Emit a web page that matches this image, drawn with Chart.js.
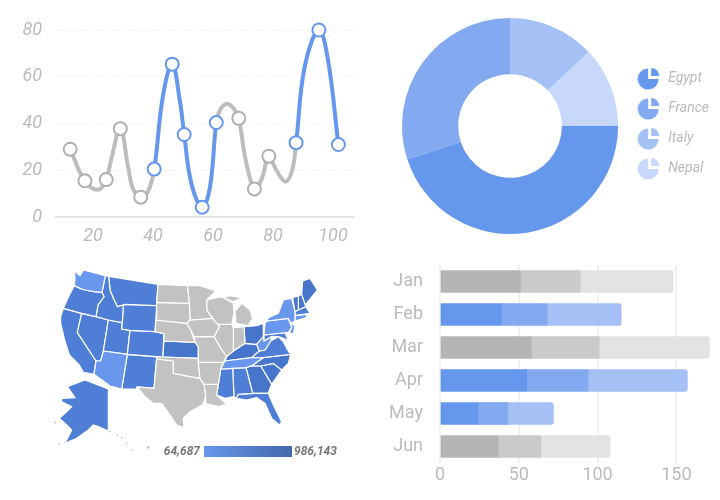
<!DOCTYPE html>
<html>
<head>
<meta charset="utf-8">
<title>Dashboard charts</title>
<script src="https://cdn.jsdelivr.net/npm/chart.js@4"></script>
<style>
  html, body { margin: 0; background: #fff; }
  canvas { position: absolute; }
  #scale { position: absolute; left: 204px; top: 446px; width: 88px; height: 11px;
           background: linear-gradient(to right, #6597ec, #4468ab); }
  .scale-label { position: absolute; top: 444px; font: italic bold 12px Roboto; color: #777; }
</style>
</head>
<body>
<canvas id="lines" width="370" height="250" style="left:0;top:0"></canvas>
<canvas id="donut" width="320" height="252" style="left:399px;top:0"></canvas>
<canvas id="map" width="330" height="215" style="left:30px;top:255px"></canvas>
<canvas id="bars" width="340" height="235" style="left:380px;top:255px"></canvas>
<div id="scale"></div>
<span class="scale-label" style="right:520px">64,687</span>
<span class="scale-label" style="left:294px">986,143</span>

<script>
const gray = '#bdbdbd'
const blue = '#6597ec'
const tickGray = '#bbbbbb'

// line chart: the curve carries more readings than the ringed ones
const lineX = [12.4, 17.3, 21.7, 24.4, 26, 29.1, 31.7, 33.3, 35.9, 38.3, 40.4, 43.3, 46.4, 48.9, 50.4, 52.8, 56.4, 59, 61.1, 62.4, 64.7, 67.2, 68.6, 70.9, 73.8, 76.1, 78.6, 81.1, 84.2, 86.4, 87.7, 90.6, 95.3, 98.3, 101.8]
const lineY = [29, 15.5, 11.7, 16, 24.2, 37.8, 21.5, 12.2, 8.5, 10.8, 20.5, 51.6, 65.4, 50.2, 35.3, 14.3, 4.2, 12.9, 40.4, 45.9, 48.5, 45.9, 42.2, 24.4, 12, 15.8, 26, 20.1, 15.1, 20.1, 31.8, 64.5, 80, 67.4, 31]
const lineMarked = [1, 1, 0, 1, 0, 1, 0, 0, 1, 0, 1, 0, 1, 0, 1, 0, 1, 0, 1, 0, 0, 0, 1, 0, 1, 0, 1, 0, 0, 0, 1, 0, 1, 0, 1]
const lineHighlighted = [0, 0, 0, 0, 0, 0, 0, 0, 0, 0, 1, 1, 1, 1, 1, 1, 1, 1, 1, 0, 0, 0, 0, 0, 0, 0, 0, 0, 0, 0, 1, 1, 1, 1, 1]
const lineXTicks = [20, 40, 60, 80, 100]

// doughnut
const countries = ['Egypt', 'France', 'Italy', 'Nepal']
const countryShares = [45, 30, 13, 12]
const countryColors = ['#6597ec', '#83a9f0', '#a4c0f5', '#c7d8fa']

// stacked bars
const months = ['Jan', 'Feb', 'Mar', 'Apr', 'May', 'Jun']
const barFirst = [51, 39, 58, 55, 24, 37]
const barSecond = [38, 29, 43, 39, 19, 27]
const barThird = [59, 47, 70, 63, 29, 44]
const monthHighlighted = [0, 1, 0, 1, 1, 0]
const barXTicks = [0, 50, 100, 150]

// map outlines, in map units
const WA = [[133,48],[150,62],[160,45],[226,62],[216,112],[192,110],[165,105],[150,100],[133,92],[135,70]]
const OR = [[133,92],[150,100],[165,105],[192,110],[216,112],[222,125],[204,150],[198,185],[155,175],[100,160],[118,120]]
const CA = [[100,160],[155,175],[142,232],[198,318],[192,358],[160,352],[148,330],[118,300],[104,255],[92,205],[92,185]]
const NV = [[155,175],[198,185],[235,195],[220,288],[212,318],[198,318],[142,232]]
const ID = [[226,62],[236,64],[240,105],[250,130],[262,155],[280,150],[277,203],[235,195],[198,185],[204,150],[222,125],[216,112]]
const UT = [[235,195],[277,203],[275,222],[300,226],[292,298],[220,288]]
const AZ = [[220,288],[292,298],[275,402],[240,393],[192,358],[198,318],[212,318]]
const MT = [[236,64],[384,88],[380,152],[285,148],[280,150],[262,155],[250,130],[240,105]]
const WY = [[280,150],[285,148],[380,152],[375,230],[300,226],[275,222],[277,203]]
const CO = [[300,226],[375,230],[402,236],[398,306],[292,298]]
const NM = [[292,298],[380,306],[372,400],[322,396],[318,402],[275,402]]
const ND = [[384,88],[472,92],[478,145],[380,142]]
const SD = [[380,142],[478,145],[480,195],[470,205],[378,195]]
const NE = [[378,195],[470,205],[482,225],[495,262],[402,258],[402,236],[375,230]]
const KS = [[402,258],[495,262],[505,275],[505,310],[398,306]]
const MN = [[472,92],[510,92],[558,108],[530,135],[530,165],[548,190],[480,195],[478,145]]
const IA = [[480,195],[548,190],[568,215],[552,245],[492,245],[482,225],[470,205]]
const MO = [[492,245],[552,245],[575,285],[590,305],[580,322],[505,322],[505,275],[495,262]]
const OK = [[380,306],[398,306],[505,310],[505,322],[510,370],[480,365],[430,355],[430,318],[380,312]]
const TX = [[380,312],[430,318],[430,355],[480,365],[510,370],[522,388],[527,420],[520,448],[480,470],[460,490],[462,518],[440,510],[420,480],[395,445],[370,445],[345,425],[322,396],[372,400]]
const AR = [[505,322],[580,322],[572,342],[565,388],[522,388],[510,370]]
const LA = [[522,388],[565,388],[560,420],[590,448],[565,455],[525,445],[527,420]]
const WI = [[530,135],[575,125],[610,145],[612,175],[605,208],[555,208],[548,190],[530,165]]
const MI = [[618,205],[615,170],[635,145],[660,165],[668,190],[655,212]]
const MIUpper = [[565,132],[600,122],[635,128],[610,140],[590,132]]
const IL = [[555,208],[605,208],[610,218],[610,288],[590,305],[575,285],[552,245],[568,215]]
const IN = [[610,218],[642,215],[645,265],[610,288]]
const OH = [[642,215],[680,212],[700,205],[700,245],[680,268],[645,265]]
const KY = [[590,305],[610,288],[645,265],[680,268],[688,288],[665,308],[585,318]]
const TN = [[585,318],[665,308],[700,308],[665,332],[648,338],[608,340],[572,342]]
const VA = [[665,308],[688,288],[705,285],[722,258],[745,245],[760,260],[770,280],[782,298],[700,308]]
const WV = [[680,268],[700,245],[702,258],[725,245],[722,258],[705,285],[688,288]]
const MD = [[702,240],[765,232],[775,258],[760,250],[745,245],[725,245],[702,258]]
const PA = [[705,205],[710,198],[775,190],[785,218],[775,232],[702,240]]
const NY = [[715,188],[745,175],[760,135],[785,130],[795,170],[795,198],[782,205],[775,190],[710,198]]
const NC = [[700,308],[782,298],[775,325],[755,345],[730,325],[692,333],[665,332]]
const SC = [[692,333],[730,325],[755,345],[725,388]]
const GA = [[648,338],[665,332],[692,333],[725,388],[715,415],[668,415]]
const AL = [[608,340],[648,338],[668,415],[625,418],[618,430],[612,425]]
const MS = [[572,342],[608,340],[612,425],[585,430],[560,420],[565,388]]
const FL = [[618,430],[625,418],[668,415],[715,415],[730,450],[755,500],[748,510],[725,490],[705,445],[680,428],[650,435]]
const VT = [[788,128],[805,122],[805,165],[795,170]]
const NH = [[805,122],[815,118],[828,155],[805,165]]
const ME = [[818,78],[840,70],[862,105],[830,145],[828,155],[815,118]]
const MA = [[795,170],[805,165],[828,155],[840,175],[795,182]]
const CT = [[795,182],[830,178],[830,188],[795,198]]
const NJ = [[782,205],[795,212],[790,238],[778,232],[785,218]]
const AK = [[112,395],[165,375],[235,402],[235,528],[205,515],[190,510],[175,525],[140,550],[105,565],[125,525],[110,510],[88,490],[112,468],[125,455],[95,440],[95,430],[135,428]]

const grayStates = [ND, SD, NE, MN, IA, MO, AR, LA, WI, MI, MIUpper, IL, IN, OK, TX]
const lightStates = [WA, AZ, NY, PA, TN, WV, NJ, CT]
const darkStates = [KS, OH, KY, NC, GA, SC, ME, VT, NH]
const midStates = [OR, ID, MT, WY, CO, UT, NV, CA, NM, MS, AL, FL, VA, MD, MA, AK]

const islandsBlue = [[76,503],[88,567],[105,563],[240,530],[262,540],[275,548],[290,565],[305,585]]
const islandsGray = [[355,577]]

Chart.defaults.font.family = 'Roboto'
Chart.defaults.animation = false
Chart.defaults.responsive = false
Chart.defaults.plugins.tooltip.enabled = false

const fixedTicks = values => scale => { scale.ticks = values.map(value => ({ value })) }

new Chart(document.getElementById('lines'), {
    type: 'scatter',
    data: {
        datasets: [{
            data: lineX.map((x, i) => ({ x, y: lineY[i] })),
            showLine: true,
            tension: 0.4,
            clip: false,
            borderWidth: 4,
            borderColor: gray,
            segment: {
                borderColor: ctx => lineHighlighted[ctx.p0DataIndex] && lineHighlighted[ctx.p1DataIndex] ? blue : gray,
            },
            pointRadius: lineMarked.map(m => m ? 6.5 : 0),
            pointBorderWidth: 2,
            pointBackgroundColor: '#fff',
            pointBorderColor: lineHighlighted.map(h => h ? blue : '#b0b0b0'),
        }],
    },
    options: {
        layout: { autoPadding: false, padding: { top: 30, right: 16 } },
        plugins: { legend: { display: false } },
        scales: {
            x: {
                min: 7.67, max: 107,
                afterBuildTicks: fixedTicks(lineXTicks),
                afterFit: scale => { scale.height = 33 },
                grid: { display: false },
                border: { color: '#e6e6e6', width: 2 },
                ticks: { color: tickGray, padding: 1, maxRotation: 0, font: { size: 18, style: 'italic' } },
            },
            y: {
                min: 0, max: 80,
                afterFit: scale => { scale.width = 56 },
                grid: { color: '#f4f4f4', drawTicks: false },
                border: { display: false, dash: [14, 4] },
                ticks: { stepSize: 20, color: tickGray, padding: 14, font: { size: 18, style: 'italic' } },
            },
        },
    },
})

const pieIcon = color => {
    const icon = document.createElement('canvas')
    icon.width = icon.height = 24
    const c = icon.getContext('2d')
    c.fillStyle = color
    c.beginPath()
    c.moveTo(11, 13)
    c.arc(11, 13, 10.5, -Math.PI / 2, 0, true)
    c.closePath()
    c.fill()
    c.beginPath()
    c.moveTo(14, 10)
    c.arc(14, 10, 8, -Math.PI / 2, 0)
    c.closePath()
    c.fill()
    return icon
}

new Chart(document.getElementById('donut'), {
    type: 'doughnut',
    data: {
        labels: countries,
        datasets: [{ data: countryShares, backgroundColor: countryColors, borderWidth: 0 }],
    },
    options: {
        rotation: 90,
        cutout: '48%',
        layout: { padding: { top: 18, bottom: 18 } },
        plugins: {
            legend: {
                position: 'right',
                labels: {
                    usePointStyle: true,
                    pointStyleWidth: 24,
                    padding: 16,
                    font: { size: 14, style: 'italic' },
                    generateLabels: () => countries.map((text, index) => ({
                        text, index,
                        fontColor: tickGray,
                        pointStyle: pieIcon(countryColors[index]),
                        lineWidth: 0,
                    })),
                },
            },
        },
    },
    plugins: [{
        id: 'liftLegend',
        afterLayout: chart => {
            chart.legend.top -= 3
            chart.legend.bottom -= 3
        },
    }],
})

const stateData = (state, color) => ({
    data: [...state, state[0]],
    showLine: true,
    fill: 'shape',
    backgroundColor: color,
    borderColor: '#fff',
    borderWidth: 1.2,
    pointRadius: 0,
    tension: 0,
})

new Chart(document.getElementById('map'), {
    type: 'scatter',
    data: {
        datasets: [
            ...grayStates.map(s => stateData(s, '#c2c2c2')),
            ...lightStates.map(s => stateData(s, '#6a97ee')),
            ...midStates.map(s => stateData(s, '#4f7ed6')),
            ...darkStates.map(s => stateData(s, '#4875cc')),
            { data: islandsBlue, pointRadius: 0.8, backgroundColor: '#9db8e8', borderWidth: 0 },
            { data: islandsGray, pointRadius: 1.5, backgroundColor: '#cccccc', borderWidth: 0 },
        ],
    },
    options: {
        layout: { autoPadding: false, padding: 0 },
        plugins: { legend: { display: false } },
        scales: {
            x: { display: false, min: 0, max: 990 },
            y: { display: false, min: 0, max: 645, reverse: true },
        },
    },
})

const barDataset = (values, grayColor, blueColor, borderRadius) => ({
    data: values,
    backgroundColor: monthHighlighted.map(h => h ? blueColor : grayColor),
    barThickness: 22,
    borderSkipped: false,
    borderRadius,
})

new Chart(document.getElementById('bars'), {
    type: 'bar',
    data: {
        labels: months,
        datasets: [
            barDataset(barFirst, '#b5b5b5', '#6597ec', 0),
            barDataset(barSecond, '#cbc9c9', '#83a9f0', 0),
            barDataset(barThird, '#e3e3e3', '#a4c0f5', { topRight: 3, bottomRight: 3 }),
        ],
    },
    options: {
        indexAxis: 'y',
        layout: { autoPadding: false, padding: { top: 10, right: 9 } },
        plugins: { legend: { display: false } },
        scales: {
            x: {
                stacked: true,
                min: 0, max: 172,
                afterBuildTicks: fixedTicks(barXTicks),
                afterFit: scale => { scale.height = 27 },
                grid: { color: '#f1f1f1', lineWidth: 2, drawTicks: false },
                border: { display: false },
                ticks: { color: tickGray, padding: 2, maxRotation: 0, font: { size: 18 } },
            },
            y: {
                stacked: true,
                afterFit: scale => { scale.width = 60; scale.paddingTop = 0; scale.paddingBottom = 0 },
                grid: { display: false },
                border: { display: false },
                ticks: { color: tickGray, padding: 9, font: { size: 18 } },
            },
        },
    },
})
</script>
</body>
</html>
